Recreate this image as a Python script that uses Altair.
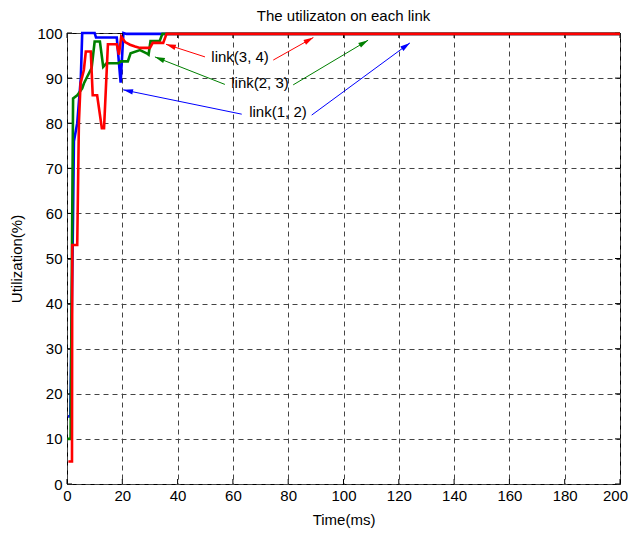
import math
import altair as alt
import pandas as pd

# ---- data ----
t12 = [0.4, 1.2, 2.2, 2.5, 3.7, 5.0, 5.5, 10.0, 10.5, 18.0, 19.4, 20.4, 21.5, 200]
v12 = [15, 15, 60, 76, 80, 90, 100, 100, 99, 99, 89, 100, 99.8, 99.8]

t23 = [0.1, 1.3, 2.2, 3.7, 5.5, 6.1, 7.3, 8.9, 10.0, 11.9, 13.1, 14.3, 18.6, 19.5,
       22.0, 23.0, 26.4, 28.8, 29.5, 30.2, 33.5, 34.5, 200]
v23 = [10, 10, 85.5, 86.2, 87.7, 88.8, 90.3, 92.2, 98.1, 98.1, 92.5, 93.3, 93.3, 93.7,
       93.7, 95.5, 96.2, 95.5, 95.2, 98.2, 98.2, 99.8, 99.8]

t34 = [0.5, 1.8, 1.9, 3.7, 4.3, 4.9, 6.1, 6.8, 8.6, 9.3, 10.9, 12.6, 13.4, 14.8,
       18.0, 18.8, 19.6, 21.0, 22.8, 24.6, 26.4, 30.0, 31.0, 34.8, 36.0, 200]
v34 = [5, 5, 53, 53, 80, 88.8, 91.8, 95.9, 95.9, 86.2, 86.2, 78.9, 78.9, 97.5,
       97.5, 95.2, 99.2, 98.0, 97.4, 97.0, 96.7, 96.7, 97.8, 97.8, 99.8, 99.8]

series_names = ["link(1, 2)", "link(2, 3)", "link(3, 4)"]
series_colors = ["#0000FF", "#008000", "#FF0000"]

# annotation labels (centre positions in data units)
label_text = ["link(3, 4)", "link(2, 3)", "link(1, 2)"]
label_t = [62.6, 69.8, 76.3]
label_v = [94.7, 88.9, 82.5]

# arrows: tail -> head, in data units
arrow_tail_t = [49.9, 74.6, 57.1, 81.8, 63.2, 88.5]
arrow_tail_v = [94.7, 94.0, 88.6, 88.5, 82.0, 81.8]
arrow_head_t = [35.8, 89.1, 31.8, 108.9, 20.3, 124.0]
arrow_head_v = [97.5, 99.0, 94.7, 98.4, 87.4, 97.8]
arrow_color = ["#FF0000", "#FF0000", "#008000", "#008000", "#0000FF", "#0000FF"]

x_ticks = list(range(0, 201, 20))
y_ticks = list(range(0, 101, 10))

W, H = 553, 451
XMAX, YMAX = 200, 100

# ---- tables ----
series_dfs = [pd.DataFrame({"t": ts, "v": vs, "order": list(range(len(ts)))})
              for ts, vs in [(t12, v12), (t23, v23), (t34, v34)]]

arr_rows = []
for tt, tv, ht, hv, c in zip(arrow_tail_t, arrow_tail_v, arrow_head_t, arrow_head_v, arrow_color):
    dx = (ht - tt) * W / XMAX
    dy = -(hv - tv) * H / YMAX
    ang = math.degrees(math.atan2(dx, -dy)) % 360
    arr_rows.append({"t": tt, "v": tv, "ht": ht, "hv": hv, "c": c, "ang": ang})
arr_df = pd.DataFrame(arr_rows)

lab_df = pd.DataFrame({"t": label_t, "v": label_v, "text": label_text})
xt_df = pd.DataFrame({"t": x_ticks})
yt_df = pd.DataFrame({"v": y_ticks})

FONT = "Liberation Sans"

xscale = alt.Scale(domain=[0, XMAX], nice=False, zero=False)
yscale = alt.Scale(domain=[0, YMAX], nice=False, zero=False)

xaxis = alt.Axis(values=x_ticks, title="Time(ms)", grid=True, gridDash=[5, 4],
                 gridColor="#444444", gridWidth=1, tickSize=0, labelPadding=4,
                 titlePadding=9, domain=False, labelFlush=False,
                 labelOffset={"condition": {"test": "datum.value == 200", "value": -5}, "value": 0},
                 labelFont=FONT, labelFontSize=15, labelColor="black",
                 titleFont=FONT, titleFontSize=15, titleColor="black", titleFontWeight="normal")
yaxis = alt.Axis(values=y_ticks, title="Utilization(%)", grid=True, gridDash=[5, 4],
                 gridColor="#444444", gridWidth=1, tickSize=0, labelPadding=5,
                 titlePadding=12, domain=False,
                 labelFont=FONT, labelFontSize=15, labelColor="black",
                 titleFont=FONT, titleFontSize=15, titleColor="black", titleFontWeight="normal")


def X(f="t"):
    return alt.X(f"{f}:Q", scale=xscale, axis=xaxis, title="Time(ms)")


def Y(f="v"):
    return alt.Y(f"{f}:Q", scale=yscale, axis=yaxis, title="Utilization(%)")


line_layers = []
for k, df in enumerate(series_dfs):
    line_layers.append(
        alt.Chart(df).mark_line(strokeWidth=2.6, clip=False, color=series_colors[k]).encode(
            x=X(), y=Y(), order=alt.Order("order:Q"))
    )

shafts = alt.Chart(arr_df).mark_rule(strokeWidth=1).encode(
    x=X(), y=Y(), x2="ht:Q", y2="hv:Q",
    color=alt.Color("c:N", scale=None),
)

heads = alt.Chart(arr_df).mark_point(
    shape="M0,0L0.6,2.2L-0.6,2.2Z", filled=True, size=81, opacity=1
).encode(
    x=X("ht"), y=Y("hv"),
    angle=alt.Angle("ang:Q", scale=None),
    color=alt.Color("c:N", scale=None),
)

labels = alt.Chart(lab_df).mark_text(font=FONT, fontSize=15, color="black").encode(
    x=X(), y=Y(), text="text:N",
)

tick_bottom = alt.Chart(xt_df).mark_rule(color="black", strokeWidth=1).encode(
    x=X(), y=alt.value(H), y2=alt.value(H - 5))
tick_top = alt.Chart(xt_df).mark_rule(color="black", strokeWidth=1).encode(
    x=X(), y=alt.value(0), y2=alt.value(5))
tick_left = alt.Chart(yt_df).mark_rule(color="black", strokeWidth=1).encode(
    y=Y(), x=alt.value(0), x2=alt.value(5))
tick_right = alt.Chart(yt_df).mark_rule(color="black", strokeWidth=1).encode(
    y=Y(), x=alt.value(W), x2=alt.value(W - 5))

chart = alt.layer(
    line_layers[0], tick_bottom, tick_top, tick_left, tick_right, shafts, heads, labels,
    line_layers[1], line_layers[2]
).properties(
    width=W, height=H,
    title=alt.TitleParams("The utilizaton on each link", font=FONT, fontSize=15,
                          fontWeight="normal", color="black", anchor="middle", offset=2),
    autosize=alt.AutoSizeParams(type="none"),
    padding={"left": 59, "top": 25, "right": 8, "bottom": 44},
    background="white",
).configure_view(
    stroke="black", strokeWidth=1
)

chart.save("out.html", embed_options={"renderer": "svg", "actions": False})
